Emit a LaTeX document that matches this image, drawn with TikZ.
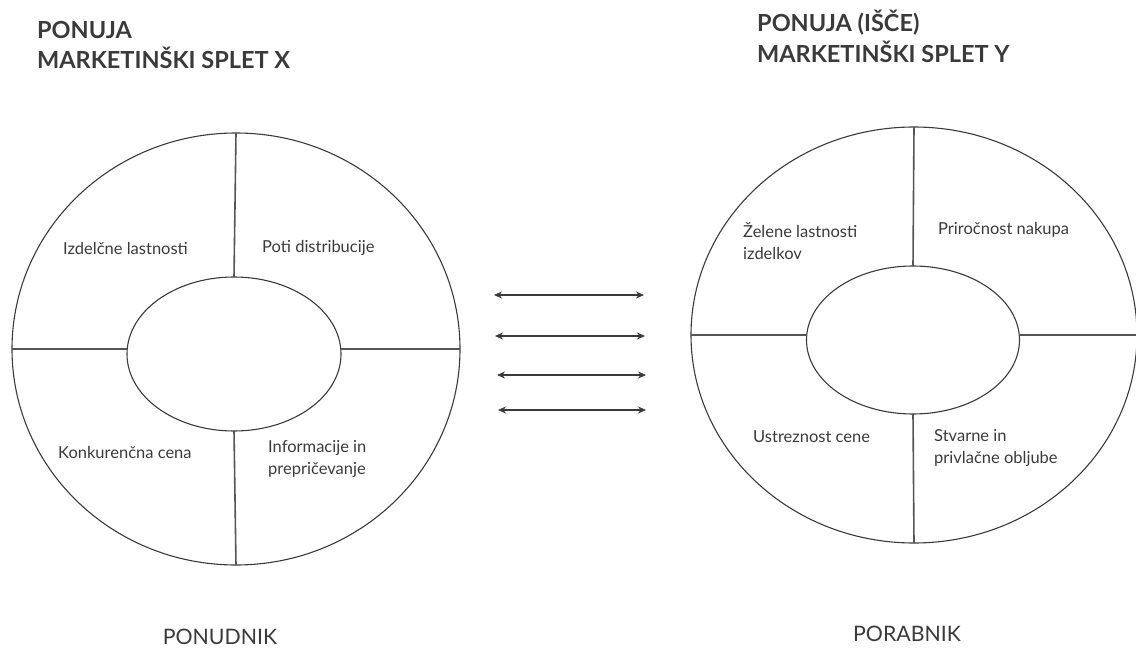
\documentclass[tikz,border=0pt]{standalone}
\usepackage{fontspec}
\setmainfont{Lato}
\usetikzlibrary{shapes.geometric,arrows.meta}
\definecolor{ink}{HTML}{3A3A3A}
\definecolor{linegray}{HTML}{555555}
\tikzset{
  ring/.style={draw=ink, line width=1.1bp, ellipse, inner sep=0pt, outer sep=0pt},
  divider/.style={draw=linegray, line width=1.6bp},
  lbl/.style={font=\fontsize{16.5bp}{22bp}\selectfont, text=ink, inner sep=0pt, align=left},
  ttl/.style={font=\fontsize{23.5bp}{30bp}\selectfont\bfseries, text=ink, inner sep=0pt, anchor=base west},
  foot/.style={font=\fontsize{21.3bp}{26bp}\selectfont, text=ink, inner sep=0pt},
  dblarrow/.style={draw=ink, line width=1.4bp, {Stealth[length=8bp,width=7bp]}-{Stealth[length=8bp,width=7bp]}}
}
\begin{document}
\begin{tikzpicture}[x=1bp,y=-1bp]
\useasboundingbox (0,0) rectangle (1136,654);
% titles
\node[ttl] (t1a) at (37,39) {PONUJA};
\node[ttl] (t1b) at (37,69) {MARKETINŠKI SPLET X};
\node[ttl] (t2a) at (757,32) {PONUJA (IŠČE)};
\node[ttl] (t2b) at (757,63) {MARKETINŠKI SPLET Y};
% left wheel
\node[ring, minimum width=448bp, minimum height=432bp] (oL) at (236,349) {};
\node[ring, minimum width=214bp, minimum height=154bp] (iL) at (234,354) {};
\draw[divider] (oL.north) -- (iL.north);
\draw[divider] (iL.south) -- (oL.south);
\draw[divider] (oL.west) -- (oL.west -| iL.west);
\draw[divider] (oL.east -| iL.east) -- (oL.east);
\node[lbl, anchor=west] (l1) at (63,248) {Izdelčne lastnosti};
\node[lbl, anchor=west] (l2) at (262,248) {Poti distribucije};
\node[lbl, anchor=west] (l3) at (58,452) {Konkurenčna cena};
\node[lbl, anchor=west] (l4) at (268,459) {Informacije in\\prepričevanje};
% right wheel
\node[ring, minimum width=446bp, minimum height=416bp] (oR) at (914,335) {};
\node[ring, minimum width=213bp, minimum height=148bp] (iR) at (913,340) {};
\draw[divider] (oR.north) -- (iR.north);
\draw[divider] (iR.south) -- (oR.south);
\draw[divider] (oR.west) -- (oR.west -| iR.west);
\draw[divider] (oR.east -| iR.east) -- (oR.east);
\node[lbl, anchor=west] (r1) at (743,241) {Želene lastnosti\\izdelkov};
\node[lbl, anchor=west] (r2) at (938,230) {Priročnost nakupa};
\node[lbl, anchor=west] (r3) at (753,437) {Ustreznost cene};
\node[lbl, anchor=west] (r4) at (934,448) {Stvarne in\\privlačne obljube};
% arrows
\coordinate (a1l) at (494,295); \coordinate (a1r) at (644,295);
\coordinate (a2l) at (495,336); \coordinate (a2r) at (645,336);
\coordinate (a3l) at (497,375); \coordinate (a3r) at (646,375);
\coordinate (a4l) at (498,410); \coordinate (a4r) at (646,410);
\draw[dblarrow] (a1l) -- (a1r);
\draw[dblarrow] (a2l) -- (a2r);
\draw[dblarrow] (a3l) -- (a3r);
\draw[dblarrow] (a4l) -- (a4r);
% footers
\node[foot] (f1) at (220,637) {PONUDNIK};
\node[foot] (f2) at (907,634) {PORABNIK};
\end{tikzpicture}
\end{document}
